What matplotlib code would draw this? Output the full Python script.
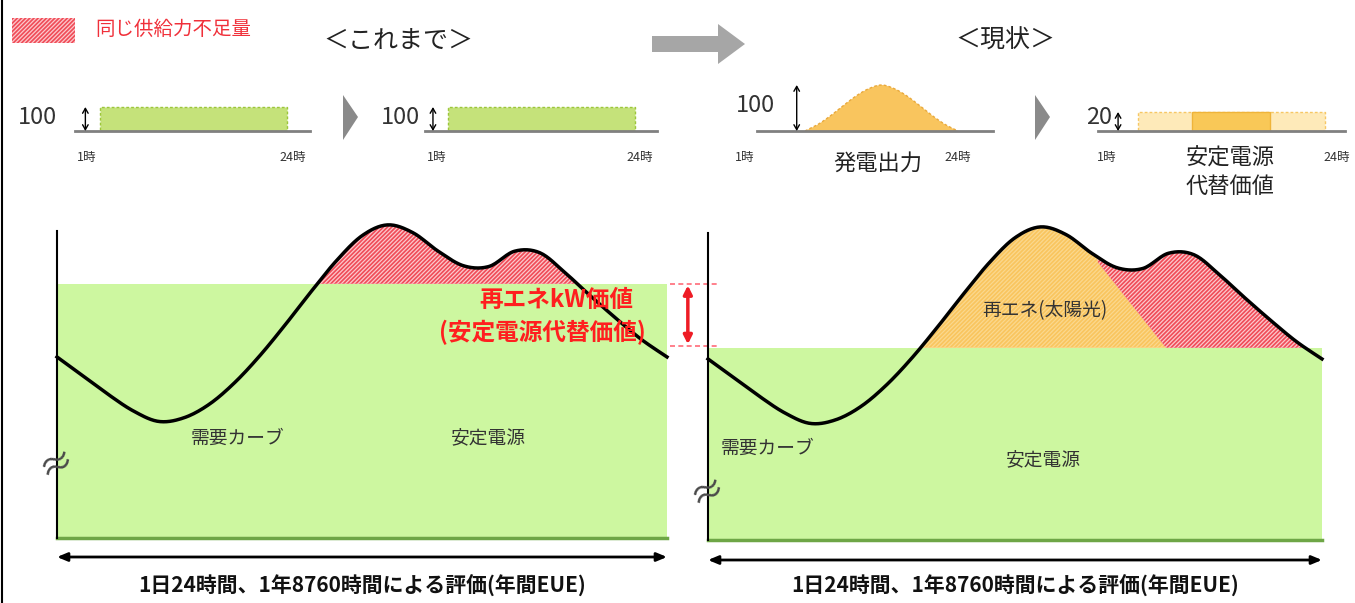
import numpy as np
import matplotlib
matplotlib.use('Agg')
import matplotlib.pyplot as plt
from matplotlib.patches import Rectangle, Polygon

plt.rcParams['font.family'] = ['Noto Sans CJK JP', 'DejaVu Sans']
plt.rcParams['hatch.linewidth'] = 0.9

# demand curve over one day (same shape in both panels)
hours = np.arange(0, 25)
demand = [58.4, 52.4, 46.4, 41.0, 37.6, 38.8, 43.2, 50.2, 59.0, 69.0, 79.5, 89.5, 97.5,
          101.0, 98.5, 92.5, 87.8, 87.6, 92.5, 92.0, 85.5, 78.0, 70.8, 64.0, 58.4]
stable_before = 82
stable_now = 62
# upper edge of the solar block in the right panel
solar_edge_h = [0, 15.0, 15.2, 17.9, 24]
solar_edge_v = [150, 150, 90, 62, 62]

# small schematic panels
flat_kw = 100
solar_h = [6, 7, 8, 9, 10, 11, 12, 13, 14, 15, 16, 17, 18]
solar_out = [0, 14, 33, 55, 76, 92, 100, 92, 76, 55, 33, 14, 0]
capacity_kw = 20
capacity_full = (1, 24)
capacity_peak = (7.6, 17.2)

W, H = 1355, 603
GREEN = '#cdf7a0'
GREEN_EDGE = '#6ea646'
RED = '#f04c58'
RED_HATCH = '#fcc9cd'
ORANGE = '#f9c55e'

fig = plt.figure(figsize=(W / 100, H / 100), dpi=100)


def px_axes(x0, y0, x1, y1):
    ax = fig.add_axes([x0 / W, 1 - y1 / H, (x1 - x0) / W, (y1 - y0) / H])
    ax.axis('off')
    ax.patch.set_visible(False)
    return ax


def smooth(x, y, n=16):
    # Catmull-Rom pass through the points for a soft line
    x = np.asarray(x, float)
    y = np.asarray(y, float)
    px = np.r_[x[0], x, x[-1]]
    py = np.r_[y[0], y, y[-1]]
    t = np.linspace(0, 1, n, endpoint=False)
    xs, ys = [], []
    for i in range(1, len(x)):
        for p, out in ((px, xs), (py, ys)):
            p0, p1, p2, p3 = p[i - 1], p[i], p[i + 1], p[i + 2]
            out.append(0.5 * (2 * p1 + (-p0 + p2) * t + (2 * p0 - 5 * p1 + 4 * p2 - p3) * t ** 2
                              + (-p0 + 3 * p1 - 3 * p2 + p3) * t ** 3))
    return np.r_[np.concatenate(xs), x[-1]], np.r_[np.concatenate(ys), y[-1]]


def small_axes(ha, pxa, hb, pxb, base, ppu, left, right, top):
    ppx = (pxb - pxa) / (hb - ha)
    ax = px_axes(left, top, right, base)
    ax.set_xlim(ha - (pxa - left) / ppx, hb + (right - pxb) / ppx)
    ax.set_ylim(0, (base - top) / ppu)
    return ax


def vert_arrow(ax, x, top, color='black', lw=1.0, style='<->,head_length=0.35,head_width=0.2'):
    ax.annotate('', xy=(x, top), xytext=(x, 0), annotation_clip=False,
                arrowprops=dict(arrowstyle=style, color=color, lw=lw, shrinkA=0, shrinkB=0))


hx, dy = smooth(hours, demand)

# ---- left main panel: before ----
axL = px_axes(57, 197, 667, 538)
axL.set_xlim(0, 24)
axL.set_ylim(0, 110)
axL.add_patch(Rectangle((0, 0), 24, stable_before, facecolor=GREEN, edgecolor='none', zorder=1))
axL.plot([0, 24], [0, 0], color=GREEN_EDGE, lw=2.5, zorder=2, clip_on=False)
axL.fill_between(hx, stable_before, dy, where=dy > stable_before, interpolate=True,
                 facecolor=RED, edgecolor=RED_HATCH, hatch='////////', lw=0, zorder=2)
axL.plot(hx, dy, color='black', lw=2.5, zorder=4, clip_on=False)
axL.plot([0, 0], [0, 99], color='black', lw=1.5, zorder=5, clip_on=False)
for lvl in (stable_before, stable_now):
    axL.plot([24.1, 26.1], [lvl, lvl], color='#ff6b78', lw=1.2, ls=(0, (3, 2)), clip_on=False)
axL.annotate('', xy=(24.82, stable_before - 0.5), xytext=(24.82, stable_now + 0.5), annotation_clip=False,
             arrowprops=dict(arrowstyle='<|-|>,head_length=0.5,head_width=0.25', color='#ee1c25',
                             lw=2.5, shrinkA=0, shrinkB=0))

# ---- right main panel: now ----
axR = px_axes(708, 199, 1322, 540)
axR.set_xlim(0, 24)
axR.set_ylim(0, 110)
axR.add_patch(Rectangle((0, 0), 24, stable_now, facecolor=GREEN, edgecolor='none', zorder=1))
axR.plot([0, 24], [0, 0], color=GREEN_EDGE, lw=2.5, zorder=2, clip_on=False)
solar_top = np.interp(hx, solar_edge_h, solar_edge_v)
orange_top = np.minimum(dy, solar_top)
axR.fill_between(hx, stable_now, orange_top, where=orange_top > stable_now, interpolate=True,
                 facecolor=ORANGE, edgecolor='#fbd88e', hatch='////////', lw=0, zorder=2)
red_low = np.maximum(stable_now, solar_top)
axR.fill_between(hx, red_low, dy, where=dy > red_low, interpolate=True,
                 facecolor=RED, edgecolor=RED_HATCH, hatch='////////', lw=0, zorder=2)
axR.plot(hx, dy, color='black', lw=2.5, zorder=4, clip_on=False)
axR.plot([0, 0], [0, 99], color='black', lw=1.5, zorder=5, clip_on=False)

# ---- small panels along the top ----
bar_kw = dict(edgecolor='#9cc63a', ls=(0, (2, 1.5)), lw=1)
s1 = small_axes(1, 100, 24, 287, 131, 0.24, 75, 310, 80)
s1.add_patch(Rectangle((1, 0), 23, flat_kw, facecolor='#c5e27a', **bar_kw))
s1.axhline(0, color='#808080', lw=2, clip_on=False)
vert_arrow(s1, -0.8, flat_kw)

s2 = small_axes(1, 448, 24, 635, 131, 0.24, 425, 657, 80)
s2.add_patch(Rectangle((1, 0), 23, flat_kw, facecolor='#c5e27a', **bar_kw))
s2.axhline(0, color='#808080', lw=2, clip_on=False)
vert_arrow(s2, -0.85, flat_kw)

s3 = small_axes(6, 805, 18, 958, 131, 0.46, 757, 993, 70)
sx, sy = smooth(solar_h, solar_out)
s3.fill_between(sx, 0, sy, facecolor=ORANGE, edgecolor='none')
s3.plot(sx, sy, color='#e9a93c', lw=1, ls=(0, (2, 1.5)))
s3.axhline(0, color='#808080', lw=2, clip_on=False)
vert_arrow(s3, 5.35, 100)

s4 = small_axes(1, 1138, 24, 1325, 131, 0.95, 1098, 1345, 100)
s4.add_patch(Rectangle((capacity_full[0], 0), capacity_full[1] - capacity_full[0], capacity_kw,
                       facecolor='#feeab9', edgecolor='#f6c765', ls=(0, (2, 1.5)), lw=1))
s4.add_patch(Rectangle((capacity_peak[0], 0), capacity_peak[1] - capacity_peak[0], capacity_kw,
                       facecolor='#f9c857', edgecolor='#efb43a', lw=1))
s4.axhline(0, color='#808080', lw=2, clip_on=False)
vert_arrow(s4, -1.45, capacity_kw)

# ---- overlay in pixel coordinates for labels and arrows ----
ov = px_axes(0, 0, W, H)
ov.set_xlim(0, W)
ov.set_ylim(H, 0)

ov.plot([2, 2], [0, H], color='black', lw=1.5)
ov.add_patch(Rectangle((12, 18), 63, 25, facecolor=RED, edgecolor=RED_HATCH, hatch='////////', lw=0))
ov.text(95, 29, '同じ供給力不足量', color='#f0303a', fontsize=14, va='center')
ov.text(398, 42, '＜これまで＞', fontsize=18, ha='center', va='center', color='#222222')
ov.text(1005, 41, '＜現状＞', fontsize=18, ha='center', va='center', color='#222222')
ov.add_patch(Polygon([(652, 36), (718, 36), (718, 24), (745, 44), (718, 64), (718, 52), (652, 52)],
                     facecolor='#a6a6a6', edgecolor='none'))
for cx in (343, 1035):
    ov.add_patch(Polygon([(cx, 95), (cx + 15, 117), (cx, 140)], facecolor='#8a8a8a', edgecolor='none'))

small = dict(fontsize=9, ha='center', va='center', color='#333333')
for x1, x24 in ((87, 293), (437, 640), (745, 958), (1107, 1337)):
    ov.text(x1, 157, '1時', **small)
    ov.text(x24, 157, '24時', **small)
num = dict(fontsize=17, ha='center', va='center', color='#333333')
ov.text(37, 117, '100', **num)
ov.text(400, 117, '100', **num)
ov.text(755, 106, '100', **num)
ov.text(1099, 117, '20', **num)
ov.text(878, 163, '発電出力', fontsize=16, ha='center', va='center', color='#222222')
ov.text(1230, 158, '安定電源', fontsize=16, ha='center', va='center', color='#222222')
ov.text(1230, 186, '代替価値', fontsize=16, ha='center', va='center', color='#222222')

label = dict(fontsize=13.5, ha='center', va='center', color='#333333')
ov.text(238, 438, '需要カーブ', **label)
ov.text(488, 438, '安定電源', **label)
ov.text(768, 448, '需要カーブ', **label)
ov.text(1043, 460, '安定電源', **label)
ov.text(1045, 311, '再エネ(太陽光)', **label)

red_txt = dict(fontsize=17, ha='center', va='center', color='#ff1f1f', fontweight='bold')
ov.text(556, 300, '再エネkW価値', **red_txt)
ov.text(542, 332, '(安定電源代替価値)', **red_txt)

for bx, by in ((57, 465), (708, 493)):
    ov.text(bx, by, '≈', fontsize=26, ha='center', va='center', color='#4a4a4a', rotation=25)

for x0, x1, y, tx in ((57, 667, 557, 362), (708, 1322, 560, 1015)):
    ov.annotate('', xy=(x1, y), xytext=(x0, y),
                arrowprops=dict(arrowstyle='<|-|>,head_length=0.6,head_width=0.25', color='black',
                                lw=2, shrinkA=0, shrinkB=0))
    ov.text(tx, 586, '1日24時間、1年8760時間による評価(年間EUE)', fontsize=15, fontweight='bold',
            ha='center', va='center', color='#111111')

fig.savefig('out.png', dpi=100)
